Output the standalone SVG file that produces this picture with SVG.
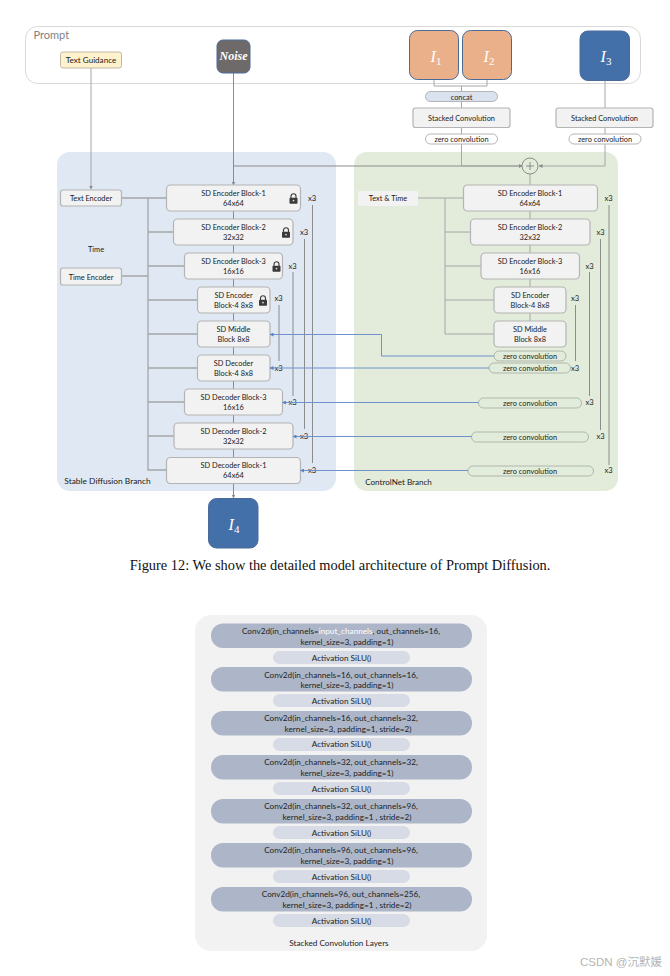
<svg xmlns="http://www.w3.org/2000/svg" width="670" height="976" viewBox="0 0 670 976">
<style>
text{font-family:"Lato","Liberation Sans",sans-serif;font-size:7.4px;fill:#1a1a1a;text-anchor:middle}
.blk{fill:#f2f2f2;stroke:#b4b4b4;stroke-width:1.2}
.zero{fill:#fff;stroke:#b4b4b4;stroke-width:1}
.zg{fill:#e2ecdb;stroke:#b0b6ac;stroke-width:1}
.img{stroke:#4a6a9a;stroke-width:1}
.m{font-family:"Liberation Serif",serif;font-style:italic;font-size:16px;fill:#fff}
.m tspan{font-size:11px;font-style:normal}
.c{fill:#adb6c8}
.a{fill:#d6dbe5}
.l{font-size:8.2px;fill:#222}
.x{font-size:7.6px}
.br{font-size:8.1px}
.g{fill:none;stroke:#a6a6a6;stroke-width:1}
.t{fill:none;stroke:#a6a6a6;stroke-width:1.3}
.gk{fill:none;stroke:#8c8c8c;stroke-width:1}
.b{fill:none;stroke:#6f92cc;stroke-width:1;marker-end:url(#ab)}
</style>
<defs>
<marker id="ag" markerWidth="4" markerHeight="4" refX="3.5" refY="2" orient="auto" markerUnits="userSpaceOnUse"><path d="M0 0L4 2L0 4z" fill="#8c8c8c"/></marker>
<marker id="ab" markerWidth="4" markerHeight="4" refX="3.5" refY="2" orient="auto" markerUnits="userSpaceOnUse"><path d="M0 0L4 2L0 4z" fill="#5b82c4"/></marker>
<symbol id="lock" viewBox="0 0 9 11" overflow="visible"><path d="M2 5V3.2a2.5 2.5 0 0 1 5 0V5" fill="none" stroke="#3a3a3a" stroke-width="1.1"/><rect x="0.5" y="4.8" width="8" height="6" rx="0.8" fill="#3a3a3a"/><circle cx="4.5" cy="7.6" r="0.9" fill="#ddd"/></symbol>
</defs>

<rect id="prompt-panel" x="25.5" y="26.5" width="615" height="57" rx="12" fill="#fff" stroke="#d9d9d9" stroke-width="1"/>
<text x="33.5" y="39" style="font-size:11px;fill:#7f7f7f;text-anchor:start">Prompt</text>
<rect id="sd-panel" x="57" y="152" width="279" height="339" rx="13" fill="#dfe8f3"/>
<rect id="cn-panel" x="354" y="152" width="264" height="339" rx="13" fill="#e3ecdb"/>

<g id="connectors">
<path class="g" d="M91 68V189" marker-end="url(#ag)"/>
<path class="gk" d="M233.5 73V185" marker-end="url(#ag)"/>
<path class="gk" d="M233.5 166H522" marker-end="url(#ag)"/>
<path class="g" d="M434 80V86H487V80M461.5 86V134M461.5 144V166H522" marker-end="url(#ag)"/>
<path class="g" d="M605 80V108M605 127V134M605 144V166H539" marker-end="url(#ag)"/>
<path class="g" d="M530 174V185M530 211V219M530 245V253M530 279V287M530 313V321"/>
<path class="gk" d="M233.5 211V219M233.5 245V253M233.5 279V287M233.5 313V321M233.5 347V355M233.5 381V389M233.5 415V423M233.5 449V457"/>
<path class="gk" d="M233.5 484V498" marker-end="url(#ag)"/>
<path class="t" d="M121 198H166M148 198V470H166M148 232H173.5M121 276H148M148 266H184M148 300H197M148 334H197M148 368H197M148 402H184M148 436H174"/>
<path class="g" d="M418 198H463M445 198V334H494M445 232H470M445 266H481M445 300H494"/>
<path class="gk" d="M312.5 205V463M304.5 239V429M293 272V396M279 305V361"/>
<path class="gk" d="M609 205V465M600.5 239V430M589.5 272V396M575.5 305V361"/>
</g>

<g id="text-guidance"><rect x="60.5" y="52" width="61" height="16" rx="2.5" fill="#fff2cc" stroke="#bdb9a6"/><text x="91" y="63" style="font-size:8.1px">Text Guidance</text></g>
<g id="noise"><rect x="217" y="40" width="33" height="33" rx="6" fill="#6e6a6a" stroke="#4a6a9a"/><text x="233.5" y="60" style="font-family:'Liberation Serif',serif;font-style:italic;font-weight:bold;font-size:12px;fill:#fff">Noise</text></g>
<g id="i1"><rect class="img" x="409.5" y="30.5" width="49" height="49" rx="8" fill="#e9b08a"/><text class="m" x="436" y="62">I<tspan dy="3">1</tspan></text></g>
<g id="i2"><rect class="img" x="462.5" y="30.5" width="49" height="49" rx="8" fill="#e9b08a"/><text class="m" x="489" y="62">I<tspan dy="3">2</tspan></text></g>
<g id="i3"><rect class="img" x="580" y="31" width="49.5" height="49.5" rx="8" fill="#4470aa"/><text class="m" x="606" y="62">I<tspan dy="3">3</tspan></text></g>
<g id="concat"><rect x="425.5" y="91.5" width="72" height="10" rx="5" fill="#dae1ef" stroke="#b4b4b4"/><text x="461.5" y="100">concat</text></g>
<g id="stack-1"><rect class="blk" x="413" y="108" width="97" height="19.5" rx="2.5"/><text x="461.5" y="121">Stacked Convolution</text></g>
<g id="stack-2"><rect class="blk" x="556" y="108" width="97" height="19.5" rx="2.5"/><text x="604.5" y="121">Stacked Convolution</text></g>
<g id="zero-top-1"><rect class="zero" x="425.5" y="134" width="72" height="10" rx="5"/><text x="461.5" y="142">zero convolution</text></g>
<g id="zero-top-2"><rect class="zero" x="569" y="134" width="72" height="10" rx="5"/><text x="605" y="142">zero convolution</text></g>
<g id="plus"><circle cx="530" cy="166" r="8" fill="#e3ecdb" stroke="#8c8c8c"/><path d="M526 166H534M530 162V170" stroke="#777" stroke-width="0.8"/></g>

<g id="text-encoder"><rect class="blk" x="60.5" y="190" width="61" height="16" rx="2.5"/><text x="91" y="201">Text Encoder</text></g>
<text id="time-label" x="96" y="252">Time</text>
<g id="time-encoder"><rect class="blk" x="60.5" y="268" width="61" height="17" rx="2.5"/><text x="91" y="280">Time Encoder</text></g>
<g id="text-time"><rect x="358" y="191" width="60" height="15" rx="1" fill="#f2f2f2"/><text x="388" y="201">Text &amp; Time</text></g>

<g id="sd-enc-1"><rect class="blk" x="166.5" y="185" width="134" height="26" rx="4"/><text x="233.5" y="196">SD Encoder Block-1</text><text x="233.5" y="206">64x64</text><use href="#lock" x="289" y="193" width="9" height="11"/></g>
<g id="sd-enc-2"><rect class="blk" x="173.5" y="219" width="119.5" height="26" rx="4"/><text x="233.5" y="230">SD Encoder Block-2</text><text x="233.5" y="240">32x32</text><use href="#lock" x="281.5" y="227" width="9" height="11"/></g>
<g id="sd-enc-3"><rect class="blk" x="184.5" y="253" width="98" height="26" rx="4"/><text x="233.5" y="264">SD Encoder Block-3</text><text x="233.5" y="274">16x16</text><use href="#lock" x="272" y="261" width="9" height="11"/></g>
<g id="sd-enc-4"><rect class="blk" x="197.5" y="287" width="72.5" height="26" rx="4"/><text x="233.5" y="298">SD Encoder</text><text x="233.5" y="308">Block-4 8x8</text><use href="#lock" x="258.5" y="295" width="9" height="11"/></g>
<g id="sd-mid"><rect class="blk" x="197.5" y="321" width="72.5" height="26" rx="4"/><text x="233.5" y="332">SD Middle</text><text x="233.5" y="342">Block 8x8</text></g>
<g id="sd-dec-4"><rect class="blk" x="197.5" y="355" width="72.5" height="26" rx="4"/><text x="233.5" y="366">SD Decoder</text><text x="233.5" y="376">Block-4 8x8</text></g>
<g id="sd-dec-3"><rect class="blk" x="184.5" y="389" width="98" height="26" rx="4"/><text x="233.5" y="400">SD Decoder Block-3</text><text x="233.5" y="410">16x16</text></g>
<g id="sd-dec-2"><rect class="blk" x="174" y="423" width="119" height="26" rx="4"/><text x="233.5" y="434">SD Decoder Block-2</text><text x="233.5" y="444">32x32</text></g>
<g id="sd-dec-1"><rect class="blk" x="166.5" y="457.5" width="134" height="26" rx="4"/><text x="233.5" y="468">SD Decoder Block-1</text><text x="233.5" y="478">64x64</text></g>
<g id="i4"><rect class="img" x="208.5" y="498.5" width="49.5" height="49.5" rx="8" fill="#4470aa"/><text class="m" x="234" y="530">I<tspan dy="3">4</tspan></text></g>
<text class="br" x="107.5" y="484" style="font-size:8.4px">Stable Diffusion Branch</text>

<g id="cn-enc-1"><rect class="blk" x="463.5" y="185" width="134" height="26" rx="4"/><text x="530" y="196">SD Encoder Block-1</text><text x="530" y="206">64x64</text></g>
<g id="cn-enc-2"><rect class="blk" x="470.5" y="219" width="119.5" height="26" rx="4"/><text x="530" y="230">SD Encoder Block-2</text><text x="530" y="240">32x32</text></g>
<g id="cn-enc-3"><rect class="blk" x="481" y="253" width="98.5" height="26" rx="4"/><text x="530" y="264">SD Encoder Block-3</text><text x="530" y="274">16x16</text></g>
<g id="cn-enc-4"><rect class="blk" x="494" y="287" width="72" height="26" rx="4"/><text x="530" y="298">SD Encoder</text><text x="530" y="308">Block-4 8x8</text></g>
<g id="cn-mid"><rect class="blk" x="494" y="321" width="72" height="26" rx="4"/><text x="530" y="332">SD Middle</text><text x="530" y="342">Block 8x8</text></g>
<g id="zc-1"><rect class="zg" x="494" y="351" width="72" height="10" rx="5"/><text x="530" y="359">zero convolution</text></g>
<g id="zc-2"><rect class="zg" x="489" y="363" width="81.5" height="10" rx="5"/><text x="530" y="371">zero convolution</text></g>
<g id="zc-3"><rect class="zg" x="478.5" y="398" width="103" height="10" rx="5"/><text x="530" y="406">zero convolution</text></g>
<g id="zc-4"><rect class="zg" x="471.5" y="432" width="117" height="10" rx="5"/><text x="530" y="440">zero convolution</text></g>
<g id="zc-5"><rect class="zg" x="468" y="466" width="125.5" height="10" rx="5"/><text x="530" y="474">zero convolution</text></g>
<text class="br" x="398.500" y="485">ControlNet Branch</text>

<g id="x3-labels">
<text class="x" x="312" y="201">x3</text><text class="x" x="304" y="235">x3</text><text class="x" x="292.5" y="269">x3</text><text class="x" x="278.5" y="301">x3</text>
<text class="x" x="278.5" y="371">x3</text><text class="x" x="292.5" y="405">x3</text><text class="x" x="304" y="439">x3</text><text class="x" x="312" y="473">x3</text>
<text class="x" x="608.5" y="201">x3</text><text class="x" x="600.5" y="235">x3</text><text class="x" x="589.5" y="269">x3</text><text class="x" x="575" y="301">x3</text>
<text class="x" x="575" y="371">x3</text><text class="x" x="589.5" y="405">x3</text><text class="x" x="600.5" y="439">x3</text><text class="x" x="608.5" y="473">x3</text>
</g>

<g id="skip-connectors">
<path class="b" d="M494 356H381.5V334.5H270"/>
<path class="b" d="M489 368H270"/>
<path class="b" d="M478.5 402.5H282.5"/>
<path class="b" d="M471.5 436.5H293"/>
<path class="b" d="M468 470.5H300.5"/>
</g>

<text id="caption" x="340" y="570" style="font-family:'Liberation Serif',serif;font-size:14.4px;fill:#111">Figure 12: We show the detailed model architecture of Prompt Diffusion.</text>

<g id="stack-panel">
<rect x="195" y="615" width="292" height="336" rx="16" fill="#f2f2f2"/>
<g id="conv-1"><rect class="c" x="211" y="623.5" width="261" height="24.5" rx="12"/><text class="l" x="341" y="634">Conv2d(in_channels=<tspan fill="#fff">input_channels</tspan>, out_channels=16,</text><text class="l" x="347" y="644.5">kernel_size=3, padding=1)</text></g>
<g id="act-1"><rect class="a" x="273" y="651" width="137" height="13" rx="6.5"/><text class="l" x="341.5" y="660.5">Activation SiLU()</text></g>
<g id="conv-2"><rect class="c" x="211" y="667" width="261" height="24.5" rx="12"/><text class="l" x="341" y="677.5">Conv2d(in_channels=16, out_channels=16,</text><text class="l" x="347" y="688">kernel_size=3, padding=1)</text></g>
<g id="act-2"><rect class="a" x="273" y="694" width="137" height="13" rx="6.5"/><text class="l" x="341.5" y="704">Activation SiLU()</text></g>
<g id="conv-3"><rect class="c" x="211" y="711" width="261" height="24.5" rx="12"/><text class="l" x="341" y="721">Conv2d(in_channels=16, out_channels=32,</text><text class="l" x="348" y="732">kernel_size=3, padding=1, stride=2)</text></g>
<g id="act-3"><rect class="a" x="273" y="738" width="137" height="13" rx="6.5"/><text class="l" x="341.5" y="747">Activation SiLU()</text></g>
<g id="conv-4"><rect class="c" x="211" y="755" width="261" height="24.5" rx="12"/><text class="l" x="341" y="765">Conv2d(in_channels=32, out_channels=32,</text><text class="l" x="347" y="775.5">kernel_size=3, padding=1)</text></g>
<g id="act-4"><rect class="a" x="273" y="782" width="137" height="13" rx="6.5"/><text class="l" x="341.5" y="791.5">Activation SiLU()</text></g>
<g id="conv-5"><rect class="c" x="211" y="799" width="261" height="24.5" rx="12"/><text class="l" x="341" y="809">Conv2d(in_channels=32, out_channels=96,</text><text class="l" x="347" y="820">kernel_size=3, padding=1 , stride=2)</text></g>
<g id="act-5"><rect class="a" x="273" y="826" width="137" height="13" rx="6.5"/><text class="l" x="341.5" y="836">Activation SiLU()</text></g>
<g id="conv-6"><rect class="c" x="211" y="843" width="261" height="24.5" rx="12"/><text class="l" x="341" y="853">Conv2d(in_channels=96, out_channels=96,</text><text class="l" x="347" y="864">kernel_size=3, padding=1)</text></g>
<g id="act-6"><rect class="a" x="273" y="870" width="137" height="13" rx="6.5"/><text class="l" x="341.5" y="880">Activation SiLU()</text></g>
<g id="conv-7"><rect class="c" x="211" y="887" width="261" height="24.5" rx="12"/><text class="l" x="341" y="897">Conv2d(in_channels=96, out_channels=256,</text><text class="l" x="347" y="908">kernel_size=3, padding=1 , stride=2)</text></g>
<g id="act-7"><rect class="a" x="273" y="914" width="137" height="13" rx="6.5"/><text class="l" x="341.5" y="924">Activation SiLU()</text></g>
<text class="l" x="339" y="946">Stacked Convolution Layers</text>
</g>
<text id="watermark" x="621" y="966" style="font-family:'Liberation Sans','Noto Sans CJK SC',sans-serif;font-size:11.5px;fill:#b5b5b5">CSDN @沉默媛</text>
</svg>
